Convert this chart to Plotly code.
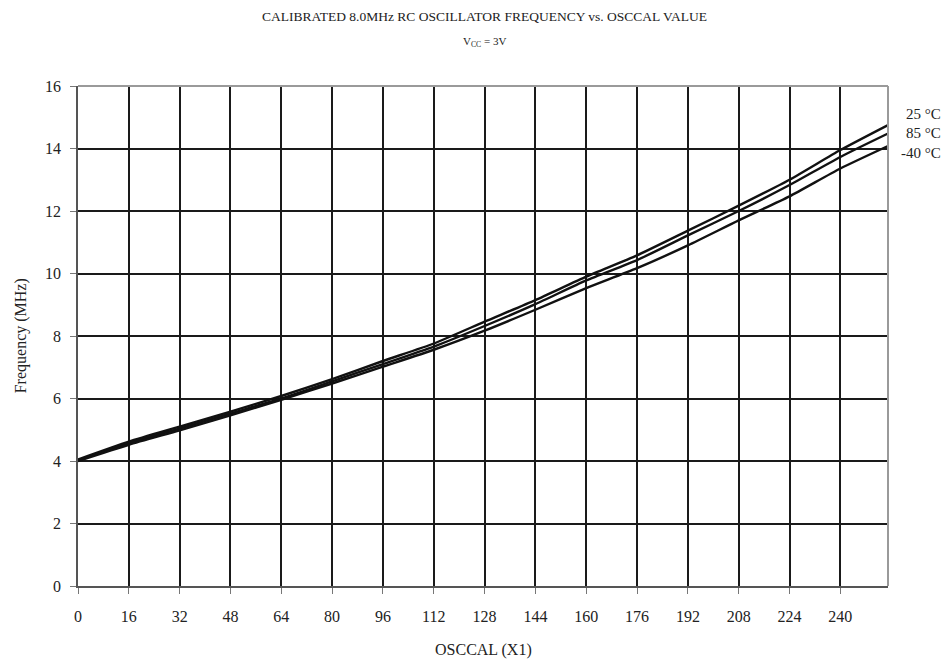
import plotly.graph_objects as go

osccal = [0, 16, 32, 48, 64, 80, 96, 112, 128, 144, 160, 176, 192, 208, 224, 240, 255]
freq_25 = [4.05, 4.62, 5.10, 5.58, 6.08, 6.62, 7.20, 7.76, 8.46, 9.15, 9.90, 10.58, 11.37, 12.17, 13.00, 13.95, 14.75]
freq_85 = [4.02, 4.57, 5.04, 5.52, 6.00, 6.55, 7.10, 7.66, 8.32, 9.02, 9.78, 10.43, 11.22, 12.00, 12.83, 13.73, 14.48]
freq_m40 = [4.00, 4.52, 4.98, 5.46, 5.96, 6.48, 7.02, 7.56, 8.17, 8.84, 9.53, 10.17, 10.90, 11.70, 12.47, 13.36, 14.08]
series_labels = ["25 °C", "85 °C", "-40 °C"]
x_ticks = list(range(0, 241, 16))
y_ticks = list(range(0, 17, 2))
title_text = "CALIBRATED 8.0MHz RC OSCILLATOR FREQUENCY vs. OSCCAL VALUE"
subtitle_text = "V<sub>CC</sub> = 3V"
x_title = "OSCCAL (X1)"
y_title = "Frequency (MHz)"

FONT = "Liberation Serif, Times New Roman, serif"

fig = go.Figure()
for ys in (freq_25, freq_85, freq_m40):
    fig.add_trace(go.Scatter(x=osccal, y=ys, mode="lines",
                             line=dict(color="#111111", width=2.4, shape="spline", smoothing=0.6),
                             showlegend=False, hoverinfo="skip"))

fig.update_layout(
    width=950, height=666,
    margin=dict(l=78, r=62, t=86, b=80, autoexpand=False),
    paper_bgcolor="white", plot_bgcolor="white",
    font=dict(family=FONT, color="#222222", size=15),
    xaxis=dict(
        range=[0, 255], tickvals=x_ticks, ticktext=[str(v) for v in x_ticks],
        showgrid=True, gridcolor="#1a1a1a", gridwidth=2,
        showline=True, linecolor="#555555", linewidth=1.5,
        ticks="outside", ticklen=6, tickcolor="#777777",
        zeroline=False, automargin=False, ticklabelstandoff=9,
        tickfont=dict(family=FONT, size=16),
    ),
    yaxis=dict(
        range=[0, 16], tickvals=y_ticks,
        showgrid=True, gridcolor="#1a1a1a", gridwidth=2,
        showline=True, linecolor="#555555", linewidth=1.5,
        ticks="outside", ticklen=6, tickcolor="#777777",
        zeroline=False, automargin=False, ticklabelstandoff=6,
        tickfont=dict(family=FONT, size=16),
    ),
    shapes=[
        dict(type="line", xref="paper", yref="paper", x0=0, x1=1, y0=1, y1=1,
             line=dict(color="#9a9a9a", width=2), layer="above"),
        dict(type="line", xref="paper", yref="paper", x0=1, x1=1, y0=0, y1=1,
             line=dict(color="#9a9a9a", width=2), layer="above"),
    ],
)

fig.add_annotation(x=0.502, xref="paper", y=1.14, yref="paper", text=title_text, showarrow=False,
                   xanchor="center", yanchor="middle", font=dict(family=FONT, size=13.5, color="#222222"))
fig.add_annotation(x=0.502, xref="paper", y=1.088, yref="paper", text=subtitle_text, showarrow=False,
                   xanchor="center", yanchor="middle", font=dict(family=FONT, size=11, color="#222222"))
fig.add_annotation(x=0.5, xref="paper", y=-0.128, yref="paper", text=x_title, showarrow=False,
                   xanchor="center", yanchor="middle", font=dict(family=FONT, size=16, color="#222222"))
fig.add_annotation(x=-0.07, xref="paper", y=0.5, yref="paper", text=y_title, showarrow=False,
                   textangle=-90, xanchor="center", yanchor="middle",
                   font=dict(family=FONT, size=16, color="#222222"))

label_y = [15.1, 14.5, 13.86]
for lab, yv in zip(series_labels, label_y):
    fig.add_annotation(x=1.0, xref="paper", y=yv, yref="y", text=lab, showarrow=False,
                       xanchor="right", xshift=55, font=dict(family=FONT, size=15, color="#222222"))

fig.write_html("out.html", config={"displayModeBar": False},
               post_script="document.body.style.margin='0';")
